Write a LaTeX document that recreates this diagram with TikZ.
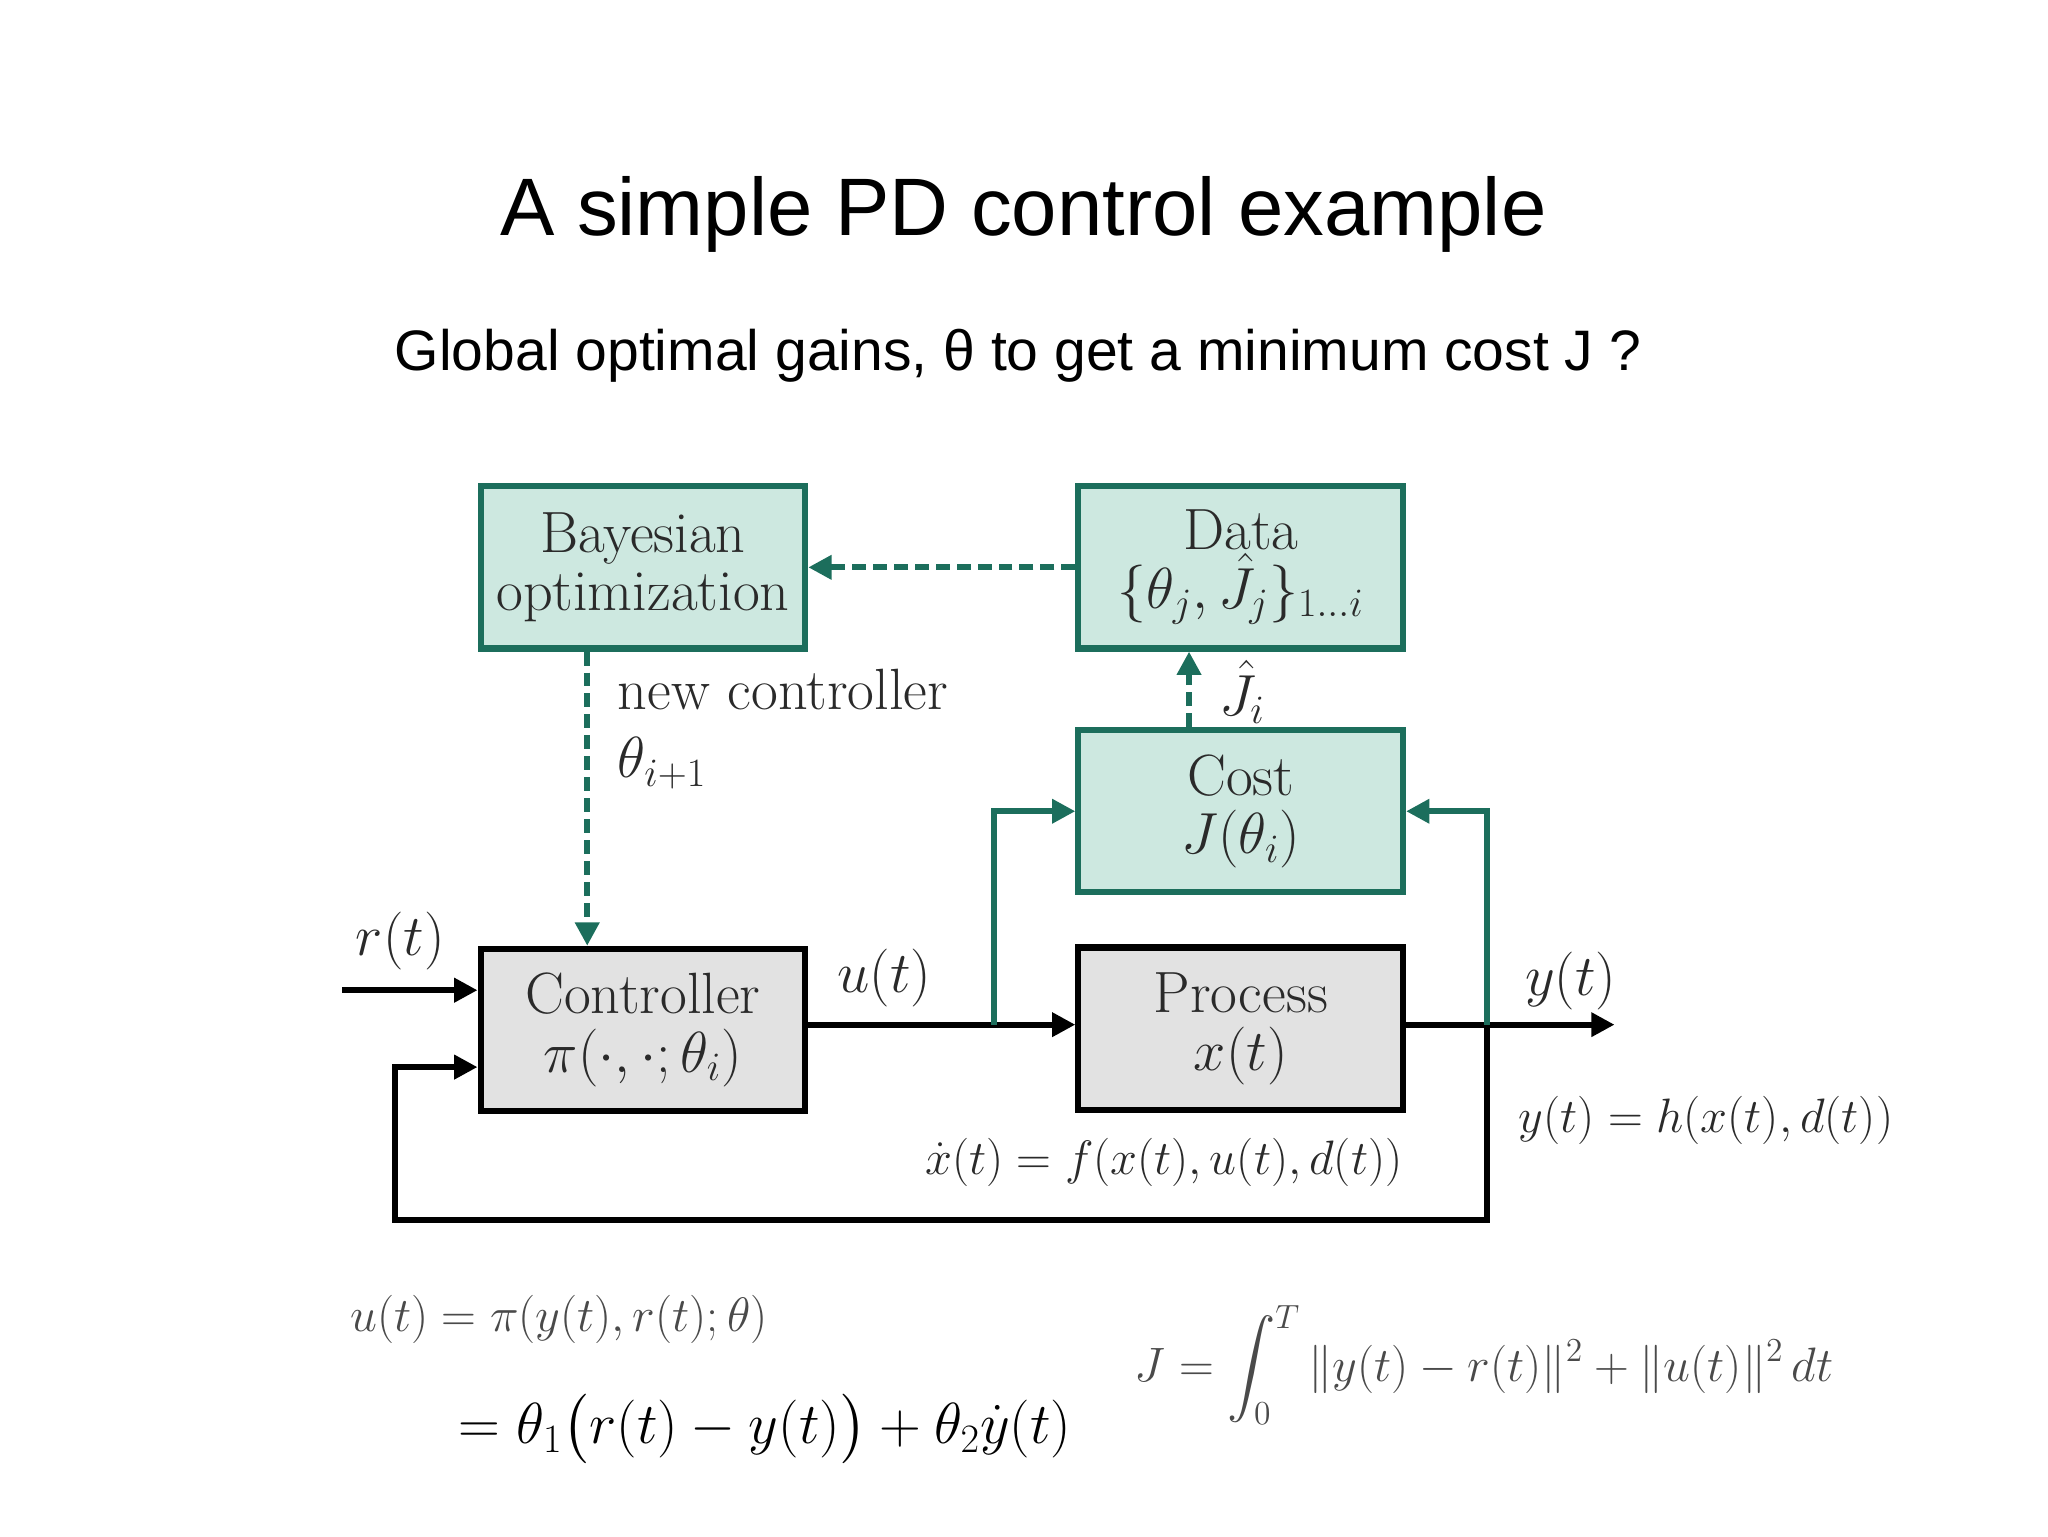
\documentclass[tikz,border=0pt]{standalone}
\usepackage{fontspec}
\usepackage{amsmath}
\newfontfamily\arial{Liberation Sans}
\usetikzlibrary{arrows.meta}
\definecolor{teal1}{HTML}{1C6E5C}
\definecolor{tealfill}{HTML}{CDE8E0}
\definecolor{grayfill}{HTML}{E2E2E2}
\definecolor{txt}{HTML}{2A2A2A}
\begin{document}
\begin{tikzpicture}[x=0.02cm,y=-0.02cm,
  tbox/.style={draw=teal1,fill=tealfill,line width=2.6pt,minimum width=4.9cm,minimum height=2.45cm,align=center,font=\fontsize{25}{29}\selectfont,text=txt},
  gbox/.style={draw=black,fill=grayfill,line width=2.6pt,minimum width=4.9cm,minimum height=2.45cm,align=center,font=\fontsize{25}{29}\selectfont,text=txt},
  dasharrow/.style={draw=teal1,line width=2.6pt,dash pattern=on 6pt off 3pt,-{Triangle[length=10pt,width=10pt]}},
  tl/.style={draw=teal1,line width=2.6pt,-{Triangle[length=10pt,width=10pt]}},
  bl/.style={draw=black,line width=2.6pt,-{Triangle[length=10pt,width=10pt]}},
  lab/.style={font=\fontsize{25}{29}\selectfont,text=txt},
  eq/.style={font=\fontsize{22}{26}\selectfont,text=txt!85}]
\useasboundingbox (0,0) rectangle (1545,1159);
\node[font=\arial\fontsize{35}{42}\selectfont] (title) at (772,162) {A simple PD control example};
\node[font=\arial\fontsize{24.5}{30}\selectfont] (sub) at (768,268) {Global optimal gains, θ to get a minimum cost J ?};
\node[tbox] (bo) at (485,428) {Bayesian\\[-4pt]optimization};
\node[tbox] (data) at (936,428) {Data\\[-4pt]$\{\theta_j,\hat J_j\}_{1\ldots i}$};
\node[tbox] (cost) at (936,612) {Cost\\[-4pt]$J(\theta_i)$};
\node[gbox] (ctrl) at (485,777) {Controller\\[-4pt]$\pi(\cdot,\cdot;\theta_i)$};
\node[gbox] (proc) at (936,776) {Process\\[-4pt]$x(t)$};
\draw[dasharrow] (data.west) -- (bo.east);
\draw[dasharrow] (bo.south -| 443,0) -- (ctrl.north -| 443,0);
\draw[dasharrow] (cost.north -| 897,0) -- (data.south -| 897,0);
\node[lab,anchor=west,align=left] (nc) at (460,550) {new controller\\$\theta_{i+1}$};
\node[lab] (jh) at (937,522) {$\hat J_i$};
\coordinate (rin) at (258,747);
\draw[bl] (rin) -- (rin -| ctrl.west);
\node[lab] (rl) at (302,710) {$r(t)$};
\draw[bl] (ctrl.east |- 0,773) -- (proc.west |- 0,773);
\node[lab] (ul) at (667,738) {$u(t)$};
\coordinate (ub) at (750,773);
\draw[tl] (ub) -- (750,612) -- (cost.west);
\coordinate (yout) at (1218,773);
\draw[bl] (proc.east |- 0,773) -- (yout);
\node[lab] (yl) at (1185,740) {$y(t)$};
\coordinate (yb) at (1122,773);
\draw[tl] (yb) -- (1122,612) -- (cost.east);
\draw[bl] (yb) -- (1122,920) -- (298,920) -- (298,805) -- (ctrl.west |- 0,805);
\node[eq,text=txt] (fx) at (878,877) {$\dot x(t)=f(x(t),u(t),d(t))$};
\node[eq,text=txt] (hy) at (1287,845) {$y(t)=h(x(t),d(t))$};
\node[eq,anchor=west] (ueq) at (258,995) {$u(t)=\pi(y(t),r(t);\theta)$};
\node[font=\fontsize{23}{28}\selectfont,anchor=west] (peq) at (340,1078) {$=\theta_1\bigl(r(t)-y(t)\bigr)+\theta_2\dot y(t)$};
\node[eq,anchor=west] (jeq) at (850,1030) {$J=\displaystyle\int_0^T\|y(t)-r(t)\|^2+\|u(t)\|^2\,dt$};
\end{tikzpicture}
\end{document}
